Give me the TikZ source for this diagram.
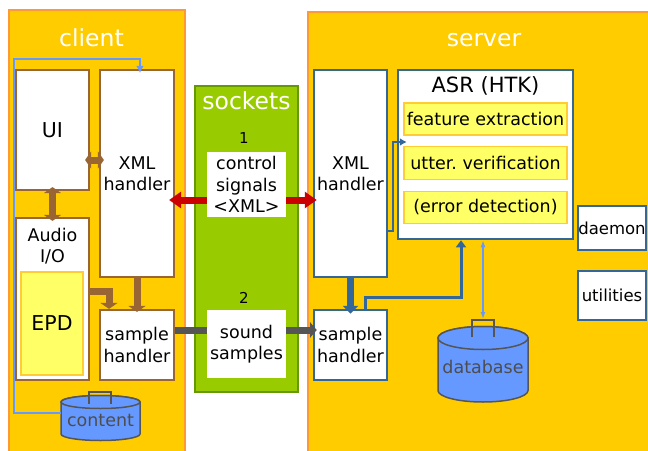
\documentclass[tikz,border=0pt]{standalone}
\usepackage{fontspec}
\setmainfont{DejaVu Sans}
\usetikzlibrary{positioning, arrows.meta}
\definecolor{gold}{HTML}{FFCC00}
\definecolor{orangeline}{HTML}{FF9933}
\definecolor{brownline}{HTML}{996633}
\definecolor{sockgreen}{HTML}{99CC00}
\definecolor{sockline}{HTML}{669900}
\definecolor{paleyellow}{HTML}{FFFF66}
\definecolor{paleorange}{HTML}{FFCC33}
\definecolor{blueline}{HTML}{336699}
\definecolor{skyblue}{HTML}{6699FF}
\definecolor{darkred}{HTML}{CC0000}
\definecolor{pipegray}{HTML}{555555}
\definecolor{druminkgray}{HTML}{4D4D4D}
\tikzstyle{area} = [rectangle, draw=orangeline, fill=gold, line width=2.2pt, inner sep=0pt]
\tikzstyle{socketarea} = [rectangle, draw=sockline, fill=sockgreen, line width=2.5pt, inner sep=0pt]
\tikzstyle{title} = [anchor=base, text=white, font=\fontsize{23.5}{28}\selectfont]
\tikzstyle{clientbox} = [rectangle, draw=brownline, fill=white, line width=2.2pt, align=center, inner sep=0pt]
\tikzstyle{serverbox} = [rectangle, draw=blueline, fill=white, line width=2.5pt, align=center, inner sep=0pt]
\tikzstyle{stage} = [rectangle, draw=paleorange, fill=paleyellow, line width=1.2pt, inner sep=0pt]
\tikzstyle{msg} = [rectangle, fill=white, align=center, inner sep=0pt]
\tikzstyle{drum} = [draw=pipegray, fill=skyblue, line width=1.5pt]
\tikzstyle{drumhandle} = [draw=pipegray, line width=2.5pt]
\tikzstyle{drumtext} = [anchor=base, text=druminkgray]
\tikzstyle{ctrlarrow} = [line width=7pt, draw=darkred, -{Triangle[width=16pt,length=12pt]}]
\tikzstyle{soundpipe} = [line width=7pt, draw=pipegray]
\tikzstyle{soundarrow} = [soundpipe, -{Triangle[width=16pt,length=7pt]}]
\tikzstyle{brownarrow} = [line width=7pt, draw=brownline, >={Triangle[width=17pt,length=6pt]}]
\tikzstyle{bluepipe} = [line width=7pt, draw=blueline, -{Triangle[width=15pt,length=8pt]}]
\tikzstyle{bluelink} = [line width=3pt, draw=blueline, -{Triangle[width=10pt,length=7pt]}]
\tikzstyle{thinlink} = [line width=1.8pt, draw=blueline, -{Latex[width=8pt,length=7pt]}]
\tikzstyle{skylink} = [line width=1.8pt, draw=skyblue, >={Latex[width=8pt,length=7pt]}, ->]
\tikzstyle{dblink} = [line width=1.3pt, draw=skyblue, >={Latex[width=5pt,length=7pt]}, <->]
\begin{document}
\begin{tikzpicture}[x=1pt, y=-1pt]
\tikzstyle{every node}=[font=\fontsize{17.5}{21.5}\selectfont]
\useasboundingbox (0,0) rectangle (648,450);
\node (client) [area, minimum width=176, minimum height=442] at (97,231) {};
\node (server) [area, minimum width=344, minimum height=443] at (480,233.5) {};
\node (sockets) [socketarea, minimum width=103, minimum height=306] at (246.5,239) {};
\node (clientlbl) [title] at (91.5,46.7) {client};
\node (serverlbl) [title] at (484,46.5) {server};
\node (socketslbl) [title] at (246.5,109.5) {sockets};

\node (ui) [clientbox, minimum width=73, minimum height=120, font=\fontsize{20.5}{24}\selectfont] at (52.5,130) {UI};
\node (cxml) [clientbox, minimum width=74, minimum height=207] at (137,173.5) {XML\\handler};
\node (audio) [clientbox, minimum width=73, minimum height=162] at (52.5,299) {};
\node (audiolbl) [align=center] at (52.5,246) {Audio\\I/O};
\node (epd) [stage, minimum width=62, minimum height=103, font=\fontsize{20.5}{24}\selectfont] at (52,323.5) {EPD};
\node (csh) [clientbox, minimum width=74, minimum height=70] at (137,345) {sample\\handler};

\node (num1) [font=\fontsize{15}{18}\selectfont] at (244,138.5) {1};
\node (ctrl) [msg, minimum width=79, minimum height=65] at (246.5,184.5) {control\\signals\\<XML>};
\node (num2) [font=\fontsize{15}{18}\selectfont] at (244,297.5) {2};
\node (sound) [msg, minimum width=79, minimum height=68] at (246.5,344) {sound\\samples};

\node (sxml) [serverbox, minimum width=73, minimum height=207] at (350.5,173.5) {XML\\handler};
\node (asr) [serverbox, minimum width=175, minimum height=169] at (485.5,154.5) {};
\node (asrlbl) [anchor=base, font=\fontsize{21}{25}\selectfont] at (485.5,92.5) {ASR (HTK)};
\node (feat) [stage, minimum width=163, minimum height=32] at (485.5,119) {feature extraction};
\node (verif) [stage, minimum width=163, minimum height=33, below=10.5pt of feat] {utter.\ verification};
\node (err) [stage, minimum width=163, minimum height=32, below=10.5pt of verif] {(error detection)};
\node (ssh) [serverbox, minimum width=73, minimum height=70] at (350.5,345) {sample\\handler};
\node (daemon) [serverbox, minimum width=68, minimum height=44, font=\fontsize{16.5}{19}\selectfont] at (612,228) {daemon};
\node (util) [serverbox, minimum width=68, minimum height=49, font=\fontsize{16.5}{19}\selectfont, below=18.5pt of daemon] {utilities};

\filldraw[drum] (61,402) -- (61,434) arc[start angle=180, end angle=0, x radius=39.5, y radius=6.5] -- (140,402) arc[start angle=0, end angle=-180, x radius=39.5, y radius=6.5] -- cycle;
\filldraw[drum] (100.5,402) ellipse [x radius=39.5, y radius=6.5];
\draw[drumhandle] (89,404) -- (89,392) -- (111,392) -- (111,404);
\node (content) [drumtext] at (100.5,426.7) {content};

\filldraw[drum] (438,338) -- (438,390.5) arc[start angle=180, end angle=0, x radius=45, y radius=11.5] -- (528,338) arc[start angle=0, end angle=-180, x radius=45, y radius=11.5] -- cycle;
\filldraw[drum] (483,338) ellipse [x radius=45, y radius=11.5];
\draw[drumhandle] (472,337) -- (472,320) -- (494,320) -- (494,337);
\node (database) [drumtext] at (483,373.3) {database};

\coordinate (contentL) at (61,413);
\coordinate (loopcorner) at (14,59);
\coordinate (dbtop) at (483,319);
\coordinate (uirow) at (0,160);
\coordinate (epdrow) at (0,291);
\coordinate (ctrlrow) at (0,200);
\coordinate (soundrow) at (0,330);
\coordinate (xmlrow) at (0,231);
\coordinate (asrrow) at (0,142);

\draw[brownarrow, <->, shorten <=-5pt, shorten >=-5pt] (ui.east |- uirow) -- (cxml.west |- uirow);
\draw[brownarrow, <->, shorten <=-4pt, shorten >=-4pt] (ui.south) -- (audio.north);
\draw[brownarrow, ->] (audio.east |- epdrow) -| ([xshift=-28pt]csh.north);
\draw[brownarrow, ->, shorten >=-3pt] (cxml.south) -- (csh.north);
\draw[skylink, shorten >=-4pt] (contentL) -| (loopcorner) -| ([xshift=3pt]cxml.north);

\draw[ctrlarrow, shorten >=-6pt] (ctrl.west |- ctrlrow) -- (cxml.east |- ctrlrow);
\draw[ctrlarrow, shorten >=-4pt] (ctrl.east |- ctrlrow) -- (sxml.west |- ctrlrow);
\draw[soundpipe] (csh.east |- soundrow) -- (sound.west |- soundrow);
\draw[soundarrow, shorten >=-4pt] (sound.east |- soundrow) -- (ssh.west |- soundrow);

\draw[bluepipe, shorten >=-5pt] (sxml.south) -- (ssh.north);
\draw[bluelink] ([xshift=14.5pt]ssh.north) -- ++(0,-11) -| ([xshift=-24.5pt]asr.south);
\draw[thinlink, shorten >=-10pt] (sxml.east |- xmlrow) -- ++(5,0) |- (asr.west |- asrrow);
\draw[dblink] (dbtop) -- (asr.south -| dbtop);
\end{tikzpicture}
\end{document}
